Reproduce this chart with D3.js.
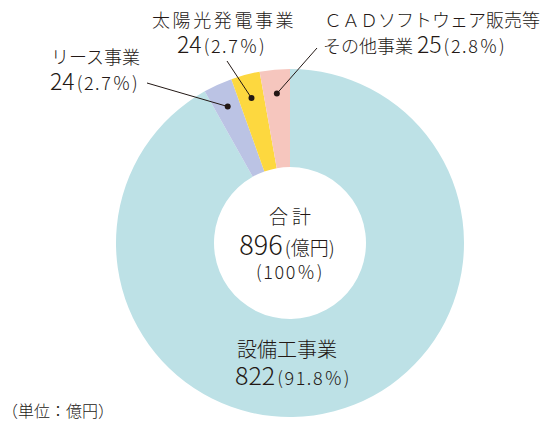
<!DOCTYPE html>
<html>
<head>
<meta charset="utf-8">
<script src="https://cdn.jsdelivr.net/npm/d3@7"></script>
<style>
  body { margin: 0; background: #fff; }
  svg { display: block; font-family: "Noto Sans CJK JP", "Noto Sans", sans-serif; font-weight: 300; }
  text { fill: #231815; }
</style>
</head>
<body>
<div id="chart"></div>
<script>
// data (億円)
const segments = ['設備工事業', 'リース事業', '太陽光発電事業', 'CADソフトウェア販売等その他事業'];
const values = [822, 24, 24, 25];
const shares = ['91.8', '2.7', '2.7', '2.8'];
const total = 896;
const colors = ['#bde1e6', '#bbc3e4', '#fdd83f', '#f6c6be'];

const width = 542, height = 422;
const cx = 290, cy = 243;
const outerR = 174, innerR = 76;

const svg = d3.select('#chart').append('svg')
  .attr('width', width)
  .attr('height', height);

const g = svg.append('g').attr('transform', `translate(${cx},${cy})`);

const pie = d3.pie().sort(null).value(d => d.value);
const arcs = pie(values.map((v, i) => ({ name: segments[i], value: v, color: colors[i] })));

const arc = d3.arc().innerRadius(innerR).outerRadius(outerR);
const dotArc = d3.arc().innerRadius(150).outerRadius(150);

g.selectAll('path.slice')
  .data(arcs)
  .join('path')
  .attr('class', 'slice')
  .attr('d', arc)
  .attr('fill', d => d.data.color);

// leader lines for the small slices (label anchor in page coords)
const leaderEnds = { 1: [147, 83], 2: [227, 61], 3: [317, 48] };
arcs.forEach((d, i) => {
  if (!leaderEnds[i]) return;
  const [px, py] = dotArc.centroid(d);
  const [ex, ey] = leaderEnds[i];
  g.append('line')
    .attr('x1', px).attr('y1', py)
    .attr('x2', ex - cx).attr('y2', ey - cy)
    .attr('stroke', '#231815')
    .attr('stroke-width', 1);
  g.append('circle')
    .attr('cx', px).attr('cy', py)
    .attr('r', 3)
    .attr('fill', '#231815');
});

// value line: big number + smaller share
function valueLine(sel, num, pct, numSize, pctSize) {
  sel.append('tspan').attr('font-size', numSize).text(num);
  sel.append('tspan').attr('font-size', pctSize).attr('dx', 2)
    .attr('letter-spacing', 1.6).text(`(${pct}％)`);
}

// リース事業
svg.append('text').attr('x', 51).attr('y', 64).attr('font-size', 18).text('リース事業');
valueLine(svg.append('text').attr('x', 50).attr('y', 90), values[1], shares[1], 23, 18);

// 太陽光発電事業
svg.append('text').attr('x', 152).attr('y', 27).attr('font-size', 18)
  .attr('letter-spacing', 2.6).text('太陽光発電事業');
valueLine(svg.append('text').attr('x', 177).attr('y', 53), values[2], shares[2], 23, 18);

// CAD
svg.append('text').attr('x', 324).attr('y', 27).attr('font-size', 18)
  .attr('textLength', 216).attr('lengthAdjust', 'spacing').text('ＣＡＤソフトウェア販売等');
const cad = svg.append('text').attr('x', 323).attr('y', 53);
cad.append('tspan').attr('font-size', 18).text('その他事業 ');
valueLine(cad, values[3], shares[3], 23, 18);

// 設備工事業
svg.append('text').attr('x', 237).attr('y', 357).attr('font-size', 20).text('設備工事業');
valueLine(svg.append('text').attr('x', 235).attr('y', 385), values[0], shares[0], 25, 18);

// center
const center = svg.append('g').attr('text-anchor', 'middle');
center.append('text').attr('x', cx + 2).attr('y', 224).attr('font-size', 19)
  .attr('letter-spacing', 4).text('合計');
const tot = center.append('text').attr('x', cx - 3).attr('y', 255);
tot.append('tspan').attr('font-size', 27).text(total);
tot.append('tspan').attr('font-size', 19).attr('dx', 2).text('(億円)');
center.append('text').attr('x', cx).attr('y', 279).attr('font-size', 18)
  .attr('letter-spacing', 1.6).text('(100％)');

// unit
svg.append('text').attr('x', 2).attr('y', 417).attr('font-size', 16).text('（単位：億円）');
</script>
</body>
</html>
